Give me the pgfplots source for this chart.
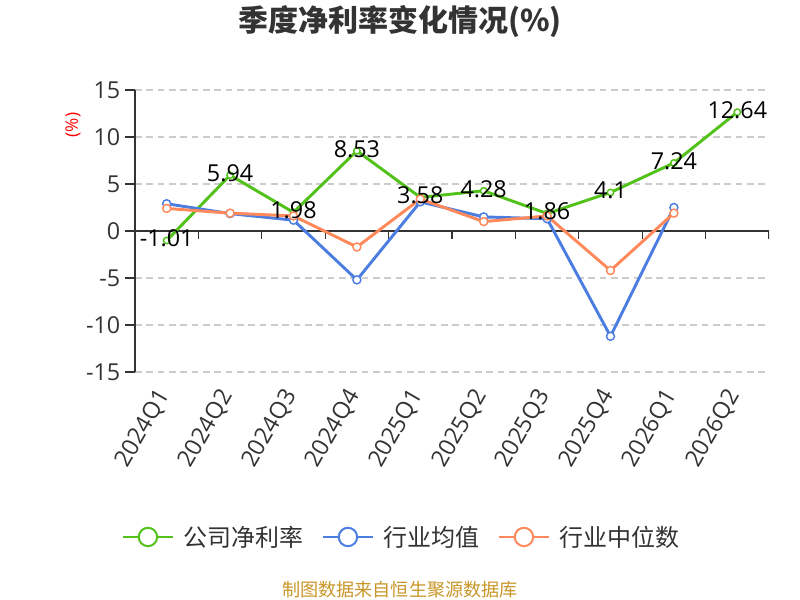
\documentclass[border=0pt]{standalone}
\usepackage{fontspec}
\setmainfont{Open Sans}
\newfontfamily\cjk{Noto Sans CJK SC}
\usepackage{pgfplots}
\pgfplotsset{compat=1.18}
\definecolor{cg}{RGB}{82,194,26}
\definecolor{cb}{RGB}{76,126,226}
\definecolor{co}{RGB}{255,137,90}
\definecolor{axc}{RGB}{51,51,51}
\definecolor{grc}{RGB}{204,204,204}
\definecolor{src}{RGB}{200,150,40}
\begin{document}
\begin{tikzpicture}
\useasboundingbox (0,0) rectangle (600pt,450pt);
\node[font=\cjk\bfseries\fontsize{22.5pt}{26pt}\selectfont, text=axc] at (300pt,433.5pt) {季度净利率变化情况(\%)};
\node[font=\fontsize{13pt}{15pt}\selectfont, text=red, rotate=90] at (54.75pt,356.25pt) {(\%)};
\node[font=\cjk\fontsize{13.6pt}{16pt}\selectfont, text=src] at (300pt,7.5pt) {制图数据来自恒生聚源数据库};
\begin{axis}[
  at={(101.25pt,171pt)}, anchor=south west,
  scale only axis, width=475.5pt, height=211.5pt,
  xmin=-0.5, xmax=9.5, ymin=-15, ymax=15,
  axis y line*=left, axis x line*=bottom,
  x axis line style={draw=none},
  y axis line style={-, axc, line width=1.2pt},
  xtick={0,...,9},
  xticklabels={2024Q1,2024Q2,2024Q3,2024Q4,2025Q1,2025Q2,2025Q3,2025Q4,2026Q1,2026Q2},
  xtick style={draw=none},
  ytick={-15,-10,...,15},
  ytick style={axc, line width=1pt},
  tick align=outside, major tick length=7.5pt,
  ymajorgrids, major grid style={grc, line width=0.8pt, dash pattern=on 5pt off 3.5pt},
  /pgf/number format/assume math mode=true,
  ticklabel style={font=\fontsize{17.5pt}{20pt}\selectfont, text=axc},
  xticklabel style={yshift=-4.5pt, rotate=60, anchor=east},
  legend style={at={(-0.021,-0.585)}, anchor=west, draw=none, fill=none, inner sep=0pt,
    nodes={inner sep=0pt},
    legend columns=3, font=\cjk\fontsize{18pt}{21pt}\selectfont, text=axc,
    /tikz/every odd column/.append style={column sep=7.5pt},
    /tikz/every even column/.append style={column sep=13.5pt}},
  legend cell align=left,
  legend image code/.code={
    \draw[#1, mark=none, line width=1.5pt] (0pt,0pt) -- (37.5pt,0pt);
    \draw[#1, mark=none, fill=white, line width=1.5pt] (18.75pt,0pt) circle (6.9pt);
  },
]
\draw[axc, line width=1.2pt] (axis cs:-0.5,0) -- (axis cs:9.5,0);
\pgfplotsinvokeforeach{-0.5,0.5,1.5,2.5,3.5,4.5,5.5,6.5,7.5,8.5,9.5}{
  \draw[axc, line width=1pt] (axis cs:#1,0) -- ++(0pt,-6pt);
}
\addplot[cg, line width=2.2pt, mark=*, mark size=2.4pt, mark options={fill=white, line width=1.1pt}]
  coordinates {(0,-1.01)(1,5.94)(2,1.98)(3,8.53)(4,3.58)(5,4.28)(6,1.86)(7,4.1)(8,7.24)(9,12.64)};
\addlegendentry{公司净利率}
\addplot[cb, line width=2.2pt, mark=*, mark size=3pt, mark options={fill=white, line width=1.1pt}]
  coordinates {(0,2.9)(1,1.85)(2,1.15)(3,-5.2)(4,3.1)(5,1.5)(6,1.3)(7,-11.2)(8,2.5)};
\addlegendentry{行业均值}
\addplot[co, line width=2.2pt, mark=*, mark size=3pt, mark options={fill=white, line width=1.1pt}]
  coordinates {(0,2.4)(1,1.9)(2,1.6)(3,-1.7)(4,3.4)(5,1.0)(6,1.6)(7,-4.2)(8,1.9)};
\addlegendentry{行业中位数}
\addplot[draw=none, mark=none, forget plot,
  nodes near coords, point meta=explicit symbolic,
  every node near coord/.append style={anchor=center, yshift=1.5pt, text=black, font=\fontsize{17.5pt}{20pt}\selectfont}]
  table[meta=lab] {
x y lab
0 -1.01 -1.01
1 5.94 5.94
2 1.98 1.98
3 8.53 8.53
4 3.58 3.58
5 4.28 4.28
6 1.86 1.86
7 4.1 4.1
8 7.24 7.24
9 12.64 12.64
};
\end{axis}
\end{tikzpicture}
\end{document}
